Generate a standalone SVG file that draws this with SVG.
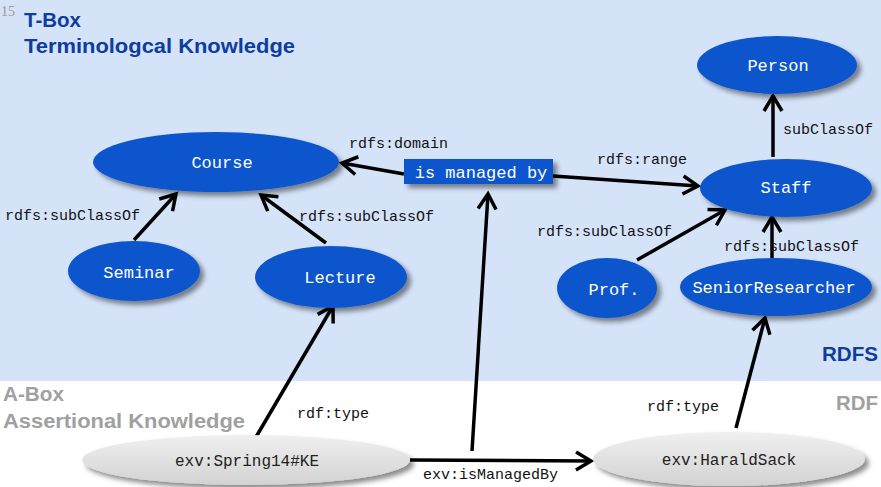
<svg xmlns="http://www.w3.org/2000/svg" width="881" height="487" viewBox="0 0 881 487">
<defs>
<filter id="sh" x="-20%" y="-30%" width="150%" height="170%">
<feDropShadow dx="4" dy="4" stdDeviation="2.5" flood-color="#000" flood-opacity="0.45"/>
</filter>
<linearGradient id="gg" x1="0" y1="0" x2="0" y2="1">
<stop offset="0" stop-color="#f0f0f0"/>
<stop offset="1" stop-color="#d2d2d2"/>
</linearGradient>
<marker id="ah" markerUnits="userSpaceOnUse" markerWidth="24" markerHeight="24" viewBox="-20 -12 24 24" refX="0" refY="0" orient="auto">
<path d="M-15,-9 L0,0 L-15,9" fill="none" stroke="#000" stroke-width="3.5" stroke-linejoin="miter"/>
</marker>
<style>
.cls{fill:#0b55cc;filter:url(#sh)}
.ind{fill:url(#gg);filter:url(#sh)}
.nt{font-family:"Liberation Mono",monospace;font-size:17px;fill:#fff;text-anchor:middle}
.it{font-family:"Liberation Mono",monospace;font-size:16px;fill:#222;text-anchor:middle}
.lb{font-family:"Liberation Mono",monospace;font-size:15px;fill:#111}
.ed{stroke:#000;stroke-width:3.5;fill:none;marker-end:url(#ah)}
.hb{font-family:"Liberation Sans",Arial,sans-serif;font-weight:bold;font-size:20px}
</style>
</defs>
<rect x="0" y="0" width="881" height="381" fill="#d5e3f9"/>
<rect x="0" y="381" width="881" height="106" fill="#ffffff"/>
<text x="1" y="16" font-family="Liberation Serif,serif" font-size="14" fill="#999">15</text>
<text x="24" y="27" class="hb" fill="#0e3da0" textLength="57" lengthAdjust="spacingAndGlyphs">T-Box</text>
<text x="24" y="53" class="hb" fill="#0e3da0" textLength="271" lengthAdjust="spacingAndGlyphs">Terminologcal Knowledge</text>
<text x="822" y="361" class="hb" fill="#0e3da0" font-size="18" textLength="56" lengthAdjust="spacingAndGlyphs">RDFS</text>
<text x="3" y="401" class="hb" fill="#a0a0a0" textLength="61" lengthAdjust="spacingAndGlyphs">A-Box</text>
<text x="3" y="428" class="hb" fill="#a0a0a0" textLength="242" lengthAdjust="spacingAndGlyphs">Assertional Knowledge</text>
<text x="836" y="410" class="hb" fill="#a0a0a0" font-size="18" textLength="42" lengthAdjust="spacingAndGlyphs">RDF</text>

<g id="connectors">
<path class="ed" d="M404,174 L342,163"/>
<path class="ed" d="M553,176 L698,186"/>
<path class="ed" d="M134,240 L176,194"/>
<path class="ed" d="M326,243 L261,195"/>
<path class="ed" d="M637,260 L725,210"/>
<path class="ed" d="M772,258 L772,217"/>
<path class="ed" d="M773,157 L773,96"/>
<path class="ed" d="M256,437 L333,306"/>
<path class="ed" d="M736,428 L765,318"/>
<path class="ed" d="M410,460 L591,461"/>
<path class="ed" d="M472,451 L488,194"/>
</g>

<g id="lbl">
<text class="lb" x="349" y="148">rdfs:domain</text>
<text class="lb" x="597" y="164">rdfs:range</text>
<text class="lb" x="5" y="220">rdfs:subClassOf</text>
<text class="lb" x="299" y="221">rdfs:subClassOf</text>
<text class="lb" x="537" y="236">rdfs:subClassOf</text>
<text class="lb" x="724" y="251">rdfs:subClassOf</text>
<text class="lb" x="783" y="134">subClassOf</text>
<text class="lb" x="297" y="418">rdf:type</text>
<text class="lb" x="647" y="411">rdf:type</text>
<text class="lb" x="423" y="479" font-size="14">exv:isManagedBy</text>
</g>

<g id="person"><ellipse class="cls" cx="777" cy="65" rx="80" ry="29"/><text class="nt" x="778" y="71">Person</text></g>
<g id="staff"><ellipse class="cls" cx="786" cy="188" rx="86" ry="29"/><text class="nt" x="786" y="193">Staff</text></g>
<g id="course"><ellipse class="cls" cx="216" cy="162" rx="123" ry="30"/><text class="nt" x="222" y="168">Course</text></g>
<g id="seminar"><ellipse class="cls" cx="134" cy="271" rx="66" ry="30"/><text class="nt" x="139" y="278">Seminar</text></g>
<g id="lecture"><ellipse class="cls" cx="331" cy="277" rx="76" ry="31"/><text class="nt" x="340" y="283">Lecture</text></g>
<g id="prof"><ellipse class="cls" cx="607" cy="288" rx="50" ry="30"/><text class="nt" x="614" y="295">Prof.</text></g>
<g id="senior"><ellipse class="cls" cx="776" cy="287" rx="96" ry="29"/><text class="nt" x="774" y="293">SeniorResearcher</text></g>
<g id="ismanagedby"><rect x="404" y="159" width="149" height="25" fill="#0b55cc" filter="url(#sh)"/><text class="nt" x="481" y="178">is managed by</text></g>
<g id="spring"><ellipse class="ind" cx="246" cy="460" rx="164" ry="25"/><text class="it" x="247" y="466">exv:Spring14#KE</text></g>
<g id="harald"><ellipse class="ind" cx="729" cy="459" rx="136" ry="27"/><text class="it" x="729" y="465">exv:HaraldSack</text></g>
</svg>
